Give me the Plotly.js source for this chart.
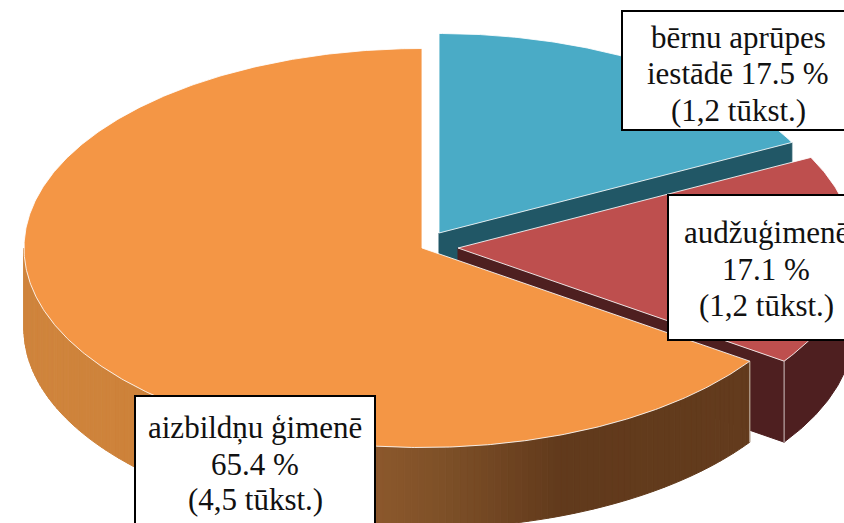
<!DOCTYPE html>
<html><head><meta charset="utf-8">
<script src="https://cdn.plot.ly/plotly-3.0.1.min.js"></script>
<style>html,body{margin:0;padding:0;background:#fff;overflow:hidden}#c{width:844px;height:523px}</style>
</head><body><div id="c"></div>
<script>
// Data
const categories = ["bērnu aprūpes iestādē", "audžuģimenē", "aizbildņu ģimenē"];
const shares = [17.5, 17.1, 65.4];
const labelLines = [
  ["bērnu aprūpes", "iestādē 17.5 %", "(1,2 tūkst.)"],
  ["audžuģimenē", "17.1 %", "(1,2 tūkst.)"],
  ["aizbildņu ģimenē", "65.4 %", "(4,5 tūkst.)"]
];
// Styling and geometry
const topColors = ["#4AABC6", "#BE4F4E", "#F49645"];
const wallColors = ["#215766", "#4E1F20", "#643C1D"];
const centers = [[439, 233], [458, 248], [422, 248]];
const radiiX = [396, 396, 398];
const radiusY = 199.5, depth = 81;
const orangeWallStops = [[0, [208,133,61]], [135, [205,130,58]], [375, [140,88,44]], [450, [124,79,39]], [525, [106,64,31]], [560, [97,58,28]], [844, [100,60,29]]];
const boxes = [[622, 11, 860, 130], [668, 195, 860, 340], [135, 396, 375, 540]];
const textAnchors = [[738, [37, 73, 110]], [766, [232, 269, 305]], [255, [427, 464, 499]]];

const rad = d => d * Math.PI / 180;
function pt(i, a, dz) { const c = centers[i]; return [c[0] + radiiX[i] * Math.sin(rad(a)), c[1] - radiusY * Math.cos(rad(a)) + (dz || 0)]; }
function arc(i, a0, a1, dz) {
  const n = Math.max(1, Math.ceil(Math.abs(a1 - a0) / 0.5)), out = [];
  for (let k = 0; k <= n; k++) out.push(pt(i, a0 + (a1 - a0) * k / n, dz));
  return out;
}
function poly(points, fill, line, width) {
  return {type: "scatter", mode: "lines", x: points.map(p => p[0]).concat(points[0][0]), y: points.map(p => p[1]).concat(points[0][1]),
    fill: "toself", fillcolor: fill, line: {color: line || fill, width: width === undefined ? 1 : width}, hoverinfo: "skip", showlegend: false};
}
function edge(a, b, color, width) {
  return {type: "scatter", mode: "lines", x: [a[0], b[0]], y: [a[1], b[1]], line: {color: color, width: width}, hoverinfo: "skip", showlegend: false};
}
function stopColor(x) {
  const s = orangeWallStops;
  for (let i = 1; i < s.length; i++) if (x <= s[i][0]) {
    const t = (x - s[i-1][0]) / (s[i][0] - s[i-1][0]);
    return "rgb(" + s[i-1][1].map((v, k) => Math.round(v + (s[i][1][k] - v) * t)).join(",") + ")";
  }
  return "rgb(" + s[s.length-1][1].join(",") + ")";
}

// Slice angles come from the shares, clockwise from 12 o'clock
const angles = [];
let acc = 0;
shares.forEach(v => { const a0 = acc * 3.6; acc += v; angles.push([a0, acc * 3.6]); });
const rim = "rgba(255,255,255,0.85)";
const traces = [];
// Blue slice: radial wall, then top
{
  const c = centers[0], [a0, a1] = angles[0];
  traces.push(poly([c, pt(0, a1), pt(0, a1, depth), [c[0], c[1] + depth]], wallColors[0]));
  traces.push(poly([c].concat(arc(0, a0, a1)), topColors[0], rim, 1));
}
// Red slice: outer wall, radial wall, then top
{
  const c = centers[1], [a0, a1] = angles[1], p = pt(1, a1), q = pt(1, a1, depth), from = Math.max(a0, 90);
  traces.push(poly(arc(1, from, a1).concat(arc(1, a1, from, depth)), wallColors[1]));
  traces.push(poly([c, p, q, [c[0], c[1] + depth]], wallColors[1]));
  traces.push(edge(p, q, "rgba(225,215,215,0.75)", 1.2));
  traces.push(poly([c].concat(arc(1, a0, a1)), topColors[1], rim, 1));
}
// Orange slice: shaded outer wall in strips, then top
{
  const c = centers[2], [a0, a1] = angles[2], step = 1, end = 270;
  for (let a = a0; a < end; a += step) {
    const b = Math.min(a + step, end), mid = pt(2, (a + b) / 2);
    traces.push(poly(arc(2, a, b).concat(arc(2, b, a, depth)), stopColor(mid[0])));
  }
  traces.push(edge(pt(2, a0), pt(2, a0, depth), "rgba(225,215,205,0.7)", 1.2));
  traces.push(poly([c].concat(arc(2, a0, a1)), topColors[2], rim, 1));
}

const shapes = boxes.map(b => ({type: "rect", xref: "x", yref: "y", x0: b[0], y0: b[1], x1: b[2], y1: b[3], fillcolor: "#fff", line: {color: "#000", width: 2}, layer: "above"}));
const annotations = [];
labelLines.forEach((lines, i) => lines.forEach((t, j) => annotations.push({
  x: textAnchors[i][0], y: textAnchors[i][1][j], xref: "x", yref: "y", text: t, showarrow: false, xanchor: "center", yanchor: "middle",
  font: {family: "Liberation Serif", size: 31, color: "#111"}
})));

Plotly.newPlot("c", traces, {
  width: 844, height: 523, margin: {l: 0, r: 0, t: 0, b: 0}, paper_bgcolor: "#fff", plot_bgcolor: "#fff", showlegend: false,
  xaxis: {range: [0, 844], visible: false, fixedrange: true},
  yaxis: {range: [523, 0], visible: false, fixedrange: true},
  shapes: shapes, annotations: annotations
}, {displayModeBar: false, staticPlot: true});
</script></body></html>
